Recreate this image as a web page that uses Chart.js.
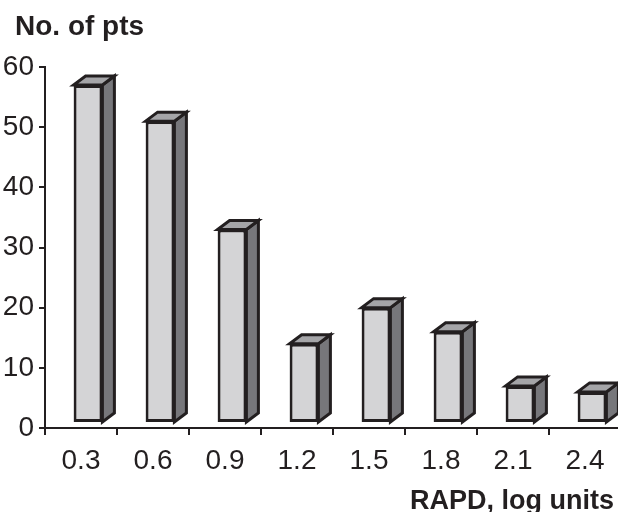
<!DOCTYPE html>
<html>
<head>
<meta charset="utf-8">
<script src="https://cdn.jsdelivr.net/npm/chart.js@4"></script>
<style>
  html, body { margin: 0; padding: 0; background: #fff; overflow: hidden; }
  #wrap { width: 618px; height: 512px; overflow: hidden; }
</style>
</head>
<body>
<div id="wrap"><canvas id="chartCanvas" width="622" height="512"></canvas></div>
<script>
const categories = ['0.3', '0.6', '0.9', '1.2', '1.5', '1.8', '2.1', '2.4'];
const patients = [57, 51, 33, 14, 20, 16, 7, 6];
const yTicks = [0, 10, 20, 30, 40, 50, 60];
const barFloor = 1;

const ink = '#231f20';
const FONT = 'Liberation Sans, Arial, sans-serif';

// fake 3D look: side + top faces drawn behind the front face chart.js draws
const DEPTH_X = 12, DEPTH_Y = 9, SHIFT = 7;

const box3d = {
    id: 'box3d',
    beforeDatasetsDraw(chart) {
        const ctx = chart.ctx;
        ctx.save();
        ctx.translate(SHIFT, 0);
        const meta = chart.getDatasetMeta(0);
        ctx.lineWidth = 3;
        ctx.lineJoin = 'miter';
        ctx.strokeStyle = ink;
        meta.data.forEach(bar => {
            const { x, y, base, width } = bar.getProps(['x', 'y', 'base', 'width'], true);
            const l = x - width / 2, r = x + width / 2;
            ctx.beginPath();
            ctx.moveTo(r, y);
            ctx.lineTo(r + DEPTH_X, y - DEPTH_Y);
            ctx.lineTo(r + DEPTH_X, base - DEPTH_Y);
            ctx.lineTo(r, base);
            ctx.closePath();
            ctx.fillStyle = '#77777b';
            ctx.fill();
            ctx.stroke();
            ctx.beginPath();
            ctx.moveTo(l, y);
            ctx.lineTo(l + DEPTH_X, y - DEPTH_Y);
            ctx.lineTo(r + DEPTH_X, y - DEPTH_Y);
            ctx.lineTo(r, y);
            ctx.closePath();
            ctx.fillStyle = '#a5a5a8';
            ctx.fill();
            ctx.stroke();
        });
    },
    afterDatasetsDraw(chart) {
        chart.ctx.restore();
    },
    afterDraw(chart) {
        const ctx = chart.ctx;
        ctx.save();
        ctx.fillStyle = ink;
        ctx.textBaseline = 'alphabetic';
        ctx.font = 'bold 28px ' + FONT;
        ctx.textAlign = 'left';
        ctx.fillText('No. of pts', 15, 35);
        ctx.font = 'bold 27px ' + FONT;
        ctx.textAlign = 'right';
        ctx.fillText('RAPD, log units', 614, 509);
        ctx.restore();
    }
};

new Chart(document.getElementById('chartCanvas'), {
    type: 'bar',
    data: {
        labels: categories,
        datasets: [{
            data: patients,
            base: barFloor,
            backgroundColor: '#d4d4d6',
            borderColor: ink,
            borderWidth: 3,
            borderSkipped: false,
            barPercentage: 0.4,
            categoryPercentage: 1
        }]
    },
    options: {
        responsive: false,
        animation: false,
        layout: { padding: { left: 0, right: 1, top: 67 } },
        plugins: {
            legend: { display: false },
            tooltip: { enabled: false }
        },
        scales: {
            x: {
                grid: { drawOnChartArea: false, color: ink, lineWidth: 2, tickLength: 7, offset: true },
                border: { color: ink, width: 2 },
                ticks: { color: ink, padding: 9, font: { family: FONT, size: 28 } },
                afterFit(scale) { scale.height = 84; scale.paddingLeft = 0; scale.paddingRight = 0; }
            },
            y: {
                min: 0,
                max: 60,
                afterBuildTicks(scale) { scale.ticks = yTicks.map(v => ({ value: v })); },
                grid: { drawOnChartArea: false, color: ink, lineWidth: 2, tickLength: 6 },
                border: { color: ink, width: 2 },
                ticks: { color: ink, padding: 5, font: { family: FONT, size: 28 } },
                afterFit(scale) { scale.width = 45; scale.paddingTop = 0; scale.paddingBottom = 0; }
            }
        }
    },
    plugins: [box3d]
});
</script>
</body>
</html>
